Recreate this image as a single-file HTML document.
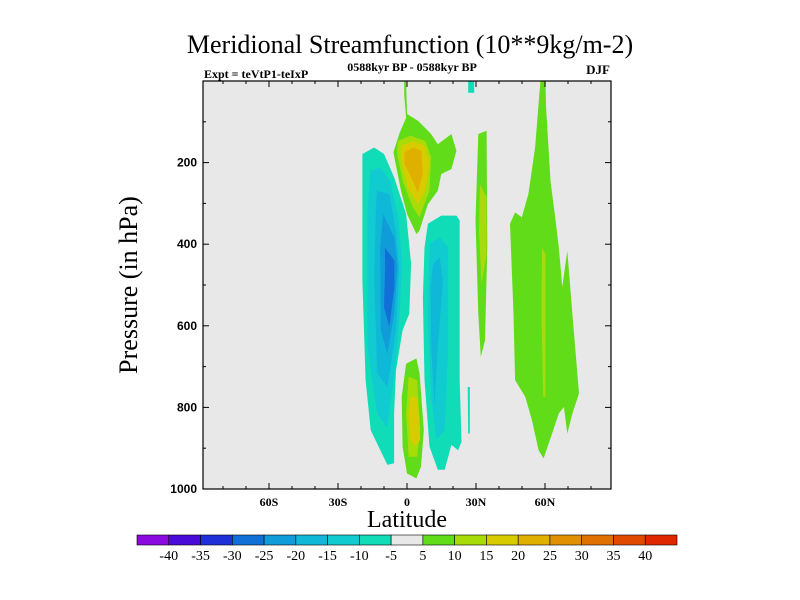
<!DOCTYPE html>
<html><head><meta charset="utf-8"><style>
html,body{margin:0;padding:0;background:#fff;}
svg{display:block;font-family:"Liberation Serif",serif;}
</style></head><body>
<svg id="chart" width="800" height="600" viewBox="0 0 800 600">
<text x="410" y="53" font-size="26" text-anchor="middle">Meridional Streamfunction (10**9kg/m-2)</text>
<text x="204" y="78" font-size="12" font-weight="bold">Expt = teVtP1-teIxP</text>
<text x="412" y="71" font-size="12" font-weight="bold" text-anchor="middle">0588kyr BP - 0588kyr BP</text>
<text x="610" y="74" font-size="13" font-weight="bold" text-anchor="end">DJF</text>
<rect x="203" y="81" width="408" height="408" fill="#e8e8e8"/>
<g id="contours"></g>
<g id="axes"></g>
<text transform="translate(137,285) rotate(-90)" font-size="26" text-anchor="middle">Pressure (in hPa)</text>
<text x="407" y="527" font-size="24" text-anchor="middle">Latitude</text>
<g id="colorbar"></g>
</svg>
<script>
const levelColors=["#8a0ae0","#4a0ad8","#2030d8","#1070d8","#109cd8","#10b8d8","#10ccd0","#10dcb8","#e8e8e8","#60dc18","#a8dc08","#d8cc00","#e0b000","#e09000","#e07000","#e04a00","#e02800"];
const levelLabels=["-40","-35","-30","-25","-20","-15","-10","-5","5","10","15","20","25","30","35","40"];
const latTicks=[-60,-30,0,30,60];
const latTickLabels=["60S","30S","0","30N","60N"];
const presTicks=[200,400,600,800,1000];
// contour regions: level index into levelColors, vertices as [lat, pressure]
const contourLevels=[7,6,5,4,3, 7,6,5, 9,10,11,12, 9,10,11, 9,10, 7,7, 9,10];
const contourShapes=[
[[-19.4,179],[-14.3,163],[-10,179],[-5.6,236],[-0.4,326],[1.8,448],[1,570],[-1.9,611],[-4.8,709],[-5.6,815],[-5.6,937],[-8.5,941],[-15.8,856],[-18,733],[-19.4,489],[-19.4,245]],
[[-16,220],[-11.6,212],[-7.2,245],[-3.6,342],[-2.1,448],[-3.6,611],[-5.8,733],[-8.7,848],[-13.1,815],[-17.2,652],[-17.2,326]],
[[-13.1,269],[-7.7,277],[-4.8,367],[-3.4,456],[-4.8,611],[-8.5,750],[-12.9,717],[-14.3,489],[-13.6,326]],
[[-10.4,326],[-5.5,383],[-4.1,456],[-5.6,571],[-8.5,668],[-11.4,611],[-11.7,408]],
[[-9.6,408],[-5.5,440],[-5.5,505],[-7.7,603],[-10,554],[-9.5,456]],
[[9.1,350],[14.9,330],[21.5,330],[22.9,342],[22.9,733],[23.7,884],[22.2,905],[19.3,892],[16.4,953],[13.4,953],[9.8,896],[7.6,733],[6.9,530],[7.6,408]],
[[9.8,399],[14.2,383],[17.9,408],[17.9,652],[16.4,856],[12.8,880],[10.5,774],[9.1,571]],
[[11.3,448],[14.2,432],[15.7,489],[13.4,652],[12,799],[10.5,652],[10.2,505]],
[[-1.2,0],[-0.4,0],[0,81],[4.9,98],[10.5,130],[13.4,155],[19.3,130],[21.5,171],[19.3,216],[14.9,228],[13.4,269],[9.1,302],[5.4,367],[4.1,375],[0,326],[-2.6,269],[-5.9,175],[-3.4,130],[-0.4,90],[-1.2,33]],
[[-3.9,147],[1.5,134],[8.1,147],[10.5,187],[9.8,269],[5.4,334],[2.5,310],[-1.9,245],[-4.4,175]],
[[-2.5,159],[2.6,147],[7.7,159],[9.8,204],[7.7,269],[4.7,302],[0.3,261],[-2.8,187]],
[[-1.1,175],[2.6,163],[6.2,171],[6.9,228],[4.7,273],[1.8,236],[-1.1,204]],
[[-0.4,693],[4.1,680],[5.5,717],[7.3,856],[6.1,945],[4.1,974],[0,962],[-1.9,896],[-2.3,774]],
[[0.7,725],[4.4,733],[5.8,856],[4.4,921],[0.7,921],[-0.4,815]],
[[1.5,774],[4.4,774],[5.8,880],[3.6,896],[1.5,880],[0.7,815]],
[[31,130],[34.6,122],[34.9,408],[33.9,636],[32.1,676],[31,571],[29.8,342]],
[[31.7,253],[34.6,285],[34.6,424],[32.4,497],[31.3,367]],
[[26.6,0],[29.2,0],[29.2,29],[26.6,29]],
[[26.4,750],[27.3,750],[27.3,864],[26.6,864]],
[[58,0],[60.2,0],[60.5,65],[62.4,245],[64.6,342],[66,408],[67.5,505],[69.7,416],[71.9,571],[74.8,766],[71.9,815],[69.7,864],[68.2,799],[66,815],[63.1,864],[59.4,925],[57.2,905],[54.3,831],[51.4,774],[47,733],[46.3,571],[44.8,350],[47,322],[49.9,334],[52.8,277],[55.7,163]],
[[58.7,408],[60.2,424],[60.2,774],[59.2,774],[58.5,571]]
];
const X0=203,X1=611,Y0=81,Y1=489;
function xScale(lat){return 407+lat*2.3;}
function yScale(p){return Y0+(p/1000)*(Y1-Y0);}
const NS="http://www.w3.org/2000/svg";
const cg=document.getElementById('contours');
contourShapes.forEach((shape,i)=>{
  const poly=document.createElementNS(NS,'polygon');
  poly.setAttribute('points',shape.map(v=>xScale(v[0]).toFixed(1)+','+yScale(v[1]).toFixed(1)).join(' '));
  poly.setAttribute('fill',levelColors[contourLevels[i]]);
  
  
  cg.appendChild(poly);
});
const ag=document.getElementById('axes');
function line(x1,y1,x2,y2,w){const l=document.createElementNS(NS,'line');l.setAttribute('x1',x1);l.setAttribute('y1',y1);l.setAttribute('x2',x2);l.setAttribute('y2',y2);l.setAttribute('stroke','#000');l.setAttribute('stroke-width',w||1);ag.appendChild(l);return l;}
const frame=document.createElementNS(NS,'rect');
frame.setAttribute('x',X0);frame.setAttribute('y',Y0);frame.setAttribute('width',X1-X0);frame.setAttribute('height',Y1-Y0);
frame.setAttribute('fill','none');frame.setAttribute('stroke','#000');frame.setAttribute('stroke-width','1.2');


ag.appendChild(frame);
for(let lat=-80;lat<=80;lat+=10){
  const x=xScale(lat);const len=(lat%30===0)?6:3;
  line(x,Y1,x,Y1-len);line(x,Y0,x,Y0+len);
}
for(let p=100;p<1000;p+=100){
  const y=yScale(p);const len=(p%200===0)?6:3;
  line(X0,y,X0+len,y);line(X1,y,X1-len,y);
}
latTicks.forEach((lat,i)=>{
  const t=document.createElementNS(NS,'text');
  t.setAttribute('x',xScale(lat));t.setAttribute('y',Y1+17);t.setAttribute('font-size','12');t.setAttribute('text-anchor','middle');t.setAttribute('font-weight','bold');
  t.textContent=latTickLabels[i];
  
  
  ag.appendChild(t);
});
presTicks.forEach(p=>{
  const t=document.createElementNS(NS,'text');
  t.setAttribute('x',X0-6);t.setAttribute('y',yScale(p)+4);t.setAttribute('font-size','12');t.setAttribute('text-anchor','end');t.setAttribute('font-weight','bold');t.setAttribute('font-family','Liberation Sans, sans-serif');
  t.textContent=String(p);
  
  
  ag.appendChild(t);
});
const cb=document.getElementById('colorbar');
const CBX=137,CBW=540,CBY=535,CBH=10,bw=CBW/levelColors.length;
levelColors.forEach((c,i)=>{
  const r=document.createElementNS(NS,'rect');
  r.setAttribute('x',CBX+i*bw);r.setAttribute('y',CBY);r.setAttribute('width',bw);r.setAttribute('height',CBH);
  r.setAttribute('fill',c);r.setAttribute('stroke','#000');r.setAttribute('stroke-width','0.6');
  
  
  cb.appendChild(r);
});
levelLabels.forEach((s,i)=>{
  const t=document.createElementNS(NS,'text');
  t.setAttribute('x',CBX+(i+1)*bw);t.setAttribute('y',CBY+25);t.setAttribute('font-size','14');t.setAttribute('text-anchor','middle');
  t.textContent=s;
  
  
  cb.appendChild(t);
});
</script>
</body></html>
